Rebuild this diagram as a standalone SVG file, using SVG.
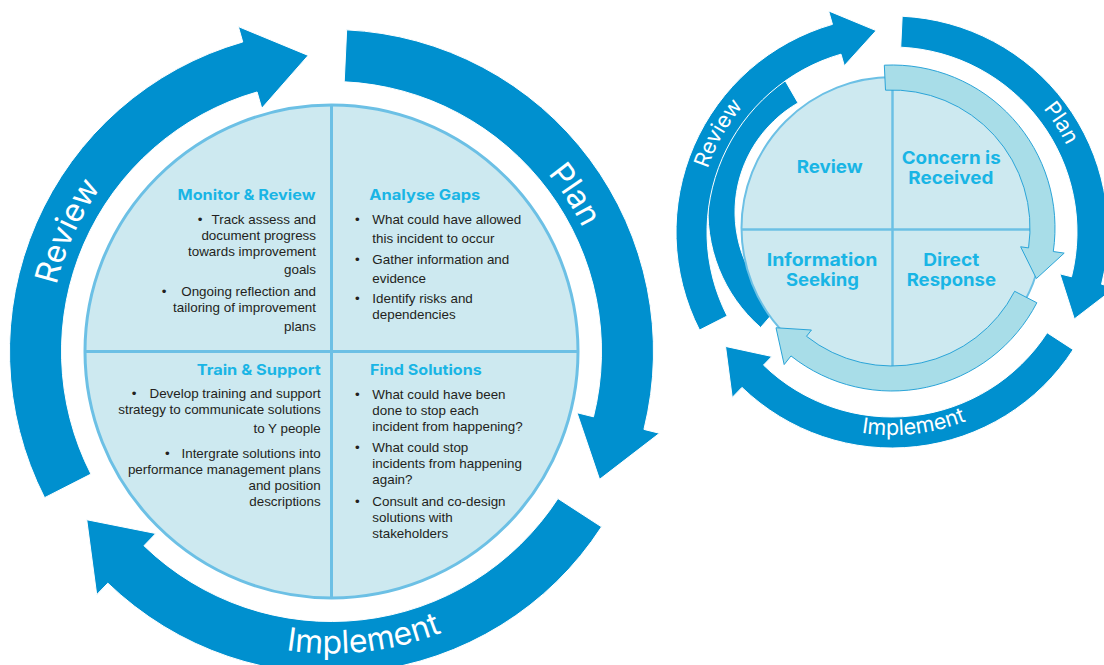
<svg xmlns="http://www.w3.org/2000/svg" width="1104" height="665" viewBox="0 0 1104 665">
<defs>
<style>
.arrow{fill:#0090cf;stroke:#ffffff;stroke-width:1}
.lt{fill:#a8dde8;stroke:#2aa4d8;stroke-width:1}
.disc{fill:#cde9f0;stroke:#6cc0e5;stroke-width:3}
.disc2{fill:#cde9f0;stroke:#6cc0e5;stroke-width:2}
.div{stroke:#6cc0e5;stroke-width:3;fill:none}
.div2{stroke:#6cc0e5;stroke-width:2.5;fill:none}
.lbl{font-family:Inter,"Open Sans","Liberation Sans",sans-serif;fill:#ffffff}
.big{font-size:32px}
.sml{font-size:21.5px}
.h{font-family:Inter,"Liberation Sans",sans-serif;font-weight:700;fill:#19b5e5;font-size:14.5px}
.h2{font-family:Inter,"Liberation Sans",sans-serif;font-weight:700;fill:#19b5e5;font-size:17.5px}
.b{font-family:"Liberation Sans",Arial,sans-serif;font-size:13.4px;fill:#231f20}
.e{text-anchor:end}
</style>
<path id="pRevL" d="M58.8,427.1 A283,283 0 0 1 209.7,96.1" fill="none"/>
<path id="pPlanL" d="M414.3,84 A280,280 0 0 1 609.3,386.6" fill="none"/>
<path id="pImpL" d="M164.4,603 A302,302 0 0 0 550.2,559.8" fill="none"/>
<path id="pRevR" d="M700.2,267.2 A195,195 0 0 1 824.03,49.23" fill="none"/>
<path id="pPlanR" d="M949.66,45.72 A195,195 0 0 1 1085.46,256.44" fill="none"/>
<path id="pImpR" d="M779.66,401.08 A203,203 0 0 0 1039.01,371.99" fill="none"/>
</defs>

<!-- LEFT DIAGRAM -->
<g id="left-disc">
<circle cx="331.5" cy="351.5" r="246.5" class="disc"/>
<line x1="331.5" y1="105" x2="331.5" y2="598" class="div"/>
<line x1="85" y1="351.5" x2="578" y2="351.5" class="div"/>
</g>

<g id="connectors">
<g id="left-cycle">
<path class="arrow" d="M346.67,29.86 A322,322 0 0 1 643.94,429.40 L659.46,433.27 L599.57,479.36 L576.99,412.71 L593.48,416.82 A270,270 0 0 0 344.22,81.80 Z"/>
<path class="arrow" d="M601.55,526.87 A322,322 0 0 1 107.82,583.13 L96.70,594.64 L86.73,519.72 L155.75,533.49 L143.94,545.72 A270,270 0 0 0 557.94,498.55 Z"/>
<path class="arrow" d="M44.59,497.68 A322,322 0 0 1 242.74,41.97 L238.33,26.59 L308.20,55.41 L261.76,108.30 L257.08,91.96 A270,270 0 0 0 90.93,474.08 Z"/>
<text class="lbl big"><textPath href="#pRevL" startOffset="50%" text-anchor="middle">Review</textPath></text>
<text class="lbl big"><textPath href="#pPlanL" startOffset="50%" text-anchor="middle">Plan</textPath></text>
<text class="lbl big"><textPath href="#pImpL" startOffset="50%" text-anchor="middle">Implement</textPath></text>
</g>
<g id="right-cycle">
<path class="arrow" d="M760.62,327.47 A153,153 0 0 1 784.5,79.5 L798,102.88 A126,126 0 0 0 778.34,307.09 Z"/>
<path class="arrow" d="M902.18,16.24 A216,216 0 0 1 1101.58,284.25 L1115.17,287.64 L1074.32,318.96 L1059.86,273.85 L1071.51,276.76 A185,185 0 0 0 900.72,47.20 Z"/>
<path class="arrow" d="M1073.15,349.64 A216,216 0 0 1 741.95,387.38 L732.23,397.45 L725.53,346.41 L771.82,356.45 L763.49,365.08 A185,185 0 0 0 1047.15,332.76 Z"/>
<path class="arrow" d="M699.54,330.06 A216,216 0 0 1 832.46,24.37 L828.60,10.91 L876.15,30.62 L844.31,65.70 L841.01,54.17 A185,185 0 0 0 727.16,315.99 Z"/>
<text class="lbl sml"><textPath href="#pRevR" startOffset="50%" text-anchor="middle">Review</textPath></text>
<text class="lbl sml"><textPath href="#pPlanR" startOffset="50%" text-anchor="middle">Plan</textPath></text>
<text class="lbl sml"><textPath href="#pImpR" startOffset="50%" text-anchor="middle">Implement</textPath></text>
</g>
</g>

<g id="monitor-review">
<text class="h" x="177.5" y="199.5" textLength="138" lengthAdjust="spacingAndGlyphs">Monitor &amp; Review</text>
<text class="b" x="197.7" y="223.5">•</text>
<text class="b e" x="316" y="223.5">Track assess and</text>
<text class="b e" x="316" y="239.5">document progress</text>
<text class="b e" x="316" y="255.5">towards improvement</text>
<text class="b e" x="316" y="274">goals</text>
<text class="b" x="161.7" y="296">•</text>
<text class="b e" x="316" y="296">Ongoing reflection and</text>
<text class="b e" x="316" y="312">tailoring of improvement</text>
<text class="b e" x="316" y="330.5">plans</text>
</g>

<g id="analyse-gaps">
<text class="h" x="369.3" y="199.5" textLength="111" lengthAdjust="spacingAndGlyphs">Analyse Gaps</text>
<text class="b" x="355" y="223.5">•</text>
<text class="b" x="372.3" y="223.5">What could have allowed</text>
<text class="b" x="372.3" y="243">this incident to occur</text>
<text class="b" x="355" y="263.5">•</text>
<text class="b" x="372.3" y="263.5">Gather information and</text>
<text class="b" x="372.3" y="282.5">evidence</text>
<text class="b" x="355" y="303">•</text>
<text class="b" x="372.3" y="303">Identify risks and</text>
<text class="b" x="372.3" y="319">dependencies</text>
</g>

<g id="train-support">
<text class="h" x="196.7" y="375" textLength="124" lengthAdjust="spacingAndGlyphs">Train &amp; Support</text>
<text class="b" x="131.7" y="398">•</text>
<text class="b e" x="320.7" y="398">Develop training and support</text>
<text class="b e" x="320.7" y="414">strategy to communicate solutions</text>
<text class="b e" x="320.7" y="433">to Y people</text>
<text class="b" x="165" y="457.5">•</text>
<text class="b e" x="320.7" y="457.5">Intergrate solutions into</text>
<text class="b e" x="320.7" y="473.5">performance management plans</text>
<text class="b e" x="320.7" y="489.5">and position</text>
<text class="b e" x="320.7" y="505.5">descriptions</text>
</g>

<g id="find-solutions">
<text class="h" x="370" y="375" textLength="111.7" lengthAdjust="spacingAndGlyphs">Find Solutions</text>
<text class="b" x="355" y="398.5">•</text>
<text class="b" x="372.3" y="398.5">What could have been</text>
<text class="b" x="372.3" y="414.5">done to stop each</text>
<text class="b" x="372.3" y="430.5">incident from happening?</text>
<text class="b" x="355" y="451.5">•</text>
<text class="b" x="372.3" y="451.5">What could stop</text>
<text class="b" x="372.3" y="467.5">incidents from happening</text>
<text class="b" x="372.3" y="483.5">again?</text>
<text class="b" x="355" y="505.5">•</text>
<text class="b" x="372.3" y="505.5">Consult and co-design</text>
<text class="b" x="372.3" y="521.5">solutions with</text>
<text class="b" x="372.3" y="537.5">stakeholders</text>
</g>

<!-- RIGHT DIAGRAM -->
<g id="right-disc">
<circle cx="892.5" cy="228" r="151" class="disc2"/>
<line x1="892.5" y1="77" x2="892.5" y2="379" class="div2"/>
<line x1="741.5" y1="229.5" x2="1043.5" y2="229.5" class="div2"/>
</g>
<g id="right-inner-arrows">
<path class="lt" d="M884.32,65.18 A163,163 0 0 1 1053.29,251.53 L1064.18,253.12 L1036.40,278.57 L1020.64,246.77 L1028.56,247.92 A138,138 0 0 0 885.50,90.15 Z"/>
<path class="lt" d="M1036.84,302.76 A163,163 0 0 1 790.99,355.93 L784.18,364.57 L776.00,327.77 L811.44,330.03 L806.48,336.31 A138,138 0 0 0 1014.63,291.29 Z"/>
</g>
<g id="q-review">
<text class="h2" x="796.7" y="173" textLength="66" lengthAdjust="spacingAndGlyphs">Review</text>
</g>
<g id="q-concern">
<text class="h2" x="901.7" y="163.5" textLength="99" lengthAdjust="spacingAndGlyphs">Concern is</text>
<text class="h2" x="908.3" y="184.3" textLength="85" lengthAdjust="spacingAndGlyphs">Received</text>
</g>
<g id="q-information">
<text class="h2" x="766.7" y="265.7" textLength="110.6" lengthAdjust="spacingAndGlyphs">Information</text>
<text class="h2" x="786" y="286" textLength="73" lengthAdjust="spacingAndGlyphs">Seeking</text>
</g>
<g id="q-direct">
<text class="h2" x="923.3" y="265.7" textLength="56" lengthAdjust="spacingAndGlyphs">Direct</text>
<text class="h2" x="906.7" y="286" textLength="89.3" lengthAdjust="spacingAndGlyphs">Response</text>
</g>
</svg>
